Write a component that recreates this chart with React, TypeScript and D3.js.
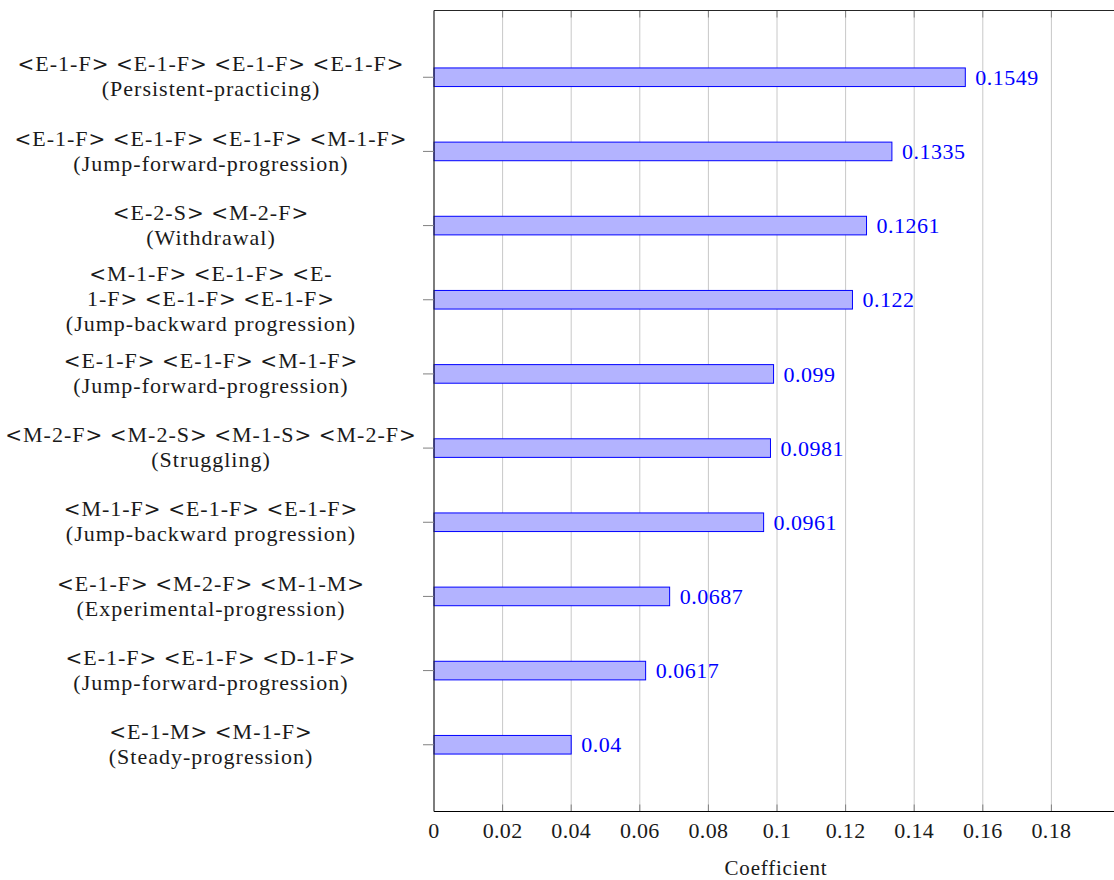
import React from "react";
import * as d3 from "d3";

// Sequence patterns (top to bottom), each split into the lines shown at the tick
const categoryLines: string[][] = [
  ["<E-1-F> <E-1-F> <E-1-F> <E-1-F>", "(Persistent-practicing)"],
  ["<E-1-F> <E-1-F> <E-1-F> <M-1-F>", "(Jump-forward-progression)"],
  ["<E-2-S> <M-2-F>", "(Withdrawal)"],
  ["<M-1-F> <E-1-F> <E-", "1-F> <E-1-F> <E-1-F>", "(Jump-backward progression)"],
  ["<E-1-F> <E-1-F> <M-1-F>", "(Jump-forward-progression)"],
  ["<M-2-F> <M-2-S> <M-1-S> <M-2-F>", "(Struggling)"],
  ["<M-1-F> <E-1-F> <E-1-F>", "(Jump-backward progression)"],
  ["<E-1-F> <M-2-F> <M-1-M>", "(Experimental-progression)"],
  ["<E-1-F> <E-1-F> <D-1-F>", "(Jump-forward-progression)"],
  ["<E-1-M> <M-1-F>", "(Steady-progression)"],
];

const coefficients: number[] = [
  0.1549, 0.1335, 0.1261, 0.122, 0.099, 0.0981, 0.0961, 0.0687, 0.0617, 0.04,
];

const xTicks: number[] = [0, 0.02, 0.04, 0.06, 0.08, 0.1, 0.12, 0.14, 0.16, 0.18];
const xTickLabels: string[] = ["0", "0.02", "0.04", "0.06", "0.08", "0.1", "0.12", "0.14", "0.16", "0.18"];

const W = 1114;
const H = 880;
const left = 434;
const top = 10.5;
const bottom = 811.5;
const right = 1120;

const FONT = "'Liberation Serif', 'Times New Roman', serif";
const SYMBOL_FONT = "'DejaVu Serif', serif";

// Render angle brackets in a wider face so they read like math relations
function LabelLine({ text }: { text: string }) {
  const parts = text.split(/([<>])/).filter((p) => p.length > 0);
  return (
    <>
      {parts.map((p, k) =>
        p === "<" || p === ">" ? (
          <tspan key={k} fontFamily={SYMBOL_FONT} fontSize={20}>
            {p}
          </tspan>
        ) : (
          <tspan key={k}>{p}</tspan>
        )
      )}
    </>
  );
}

export default function App() {
  const x = d3.scaleLinear().domain([0, 0.2]).range([left, right]);
  const n = categoryLines.length;
  const y = d3.scaleLinear().domain([-0.9, n - 1 + 0.9]).range([top, bottom]);
  const barH = 18.6;
  const lineGap = 25;
  const labelX = 211;

  return (
    <svg
      width={W}
      height={H}
      style={{ position: "absolute", left: 0, top: 0, background: "#fff" }}
      fontFamily={FONT}
    >
      {/* vertical grid */}
      {xTicks.slice(1).map((t) => (
        <line key={"g" + t} x1={x(t)} x2={x(t)} y1={top} y2={bottom} stroke="#c8c8c8" strokeWidth={1} />
      ))}
      {/* inner tick marks at top and bottom */}
      {xTicks.slice(1).map((t) => (
        <g key={"t" + t} stroke="#808080" strokeWidth={1}>
          <line x1={x(t)} x2={x(t)} y1={top} y2={top + 7} />
          <line x1={x(t)} x2={x(t)} y1={bottom - 7} y2={bottom} />
        </g>
      ))}
      {/* bars */}
      {coefficients.map((v, i) => (
        <rect
          key={"b" + i}
          x={x(0)}
          y={y(i) - barH / 2}
          width={x(v) - x(0)}
          height={barH}
          fill="#b3b3ff"
          stroke="#0000ff"
          strokeWidth={1}
        />
      ))}
      {/* value labels */}
      {coefficients.map((v, i) => (
        <text
          key={"v" + i}
          x={x(v) + 10}
          y={y(i)}
          dy="0.35em"
          fill="#0000ff"
          fontSize={22}
          letterSpacing={0.5}
        >
          {String(v)}
        </text>
      ))}
      {/* axis frame */}
      <line x1={left} x2={W} y1={top} y2={top} stroke="#262626" strokeWidth={1.2} />
      <line x1={left} x2={W} y1={bottom} y2={bottom} stroke="#000" strokeWidth={1.2} />
      <line x1={left} x2={left} y1={top} y2={bottom} stroke="#262626" strokeWidth={1.2} />
      {/* y ticks and category labels */}
      {categoryLines.map((lines, i) => {
        const cy = y(i) - 1;
        const start = cy - ((lines.length - 1) * lineGap) / 2;
        return (
          <g key={"c" + i}>
            <line x1={left - 11} x2={left} y1={y(i)} y2={y(i)} stroke="#808080" strokeWidth={1} />
            {lines.map((ln, j) => (
              <text
                key={j}
                x={labelX}
                y={start + j * lineGap}
                dy="0.35em"
                textAnchor="middle"
                fontSize={22}
                letterSpacing={1}
                fill="#1a1a1a"
              >
                <LabelLine text={ln} />
              </text>
            ))}
          </g>
        );
      })}
      {/* x tick labels */}
      {xTicks.map((t, i) => (
        <text
          key={"xl" + t}
          x={x(t)}
          y={830}
          dy="0.35em"
          textAnchor="middle"
          fontSize={22}
          letterSpacing={0.3}
          fill="#1a1a1a"
        >
          {xTickLabels[i]}
        </text>
      ))}
      <text x={776} y={868} dy="0.35em" textAnchor="middle" fontSize={21} letterSpacing={0.8} fill="#1a1a1a">
        Coefficient
      </text>
    </svg>
  );
}
